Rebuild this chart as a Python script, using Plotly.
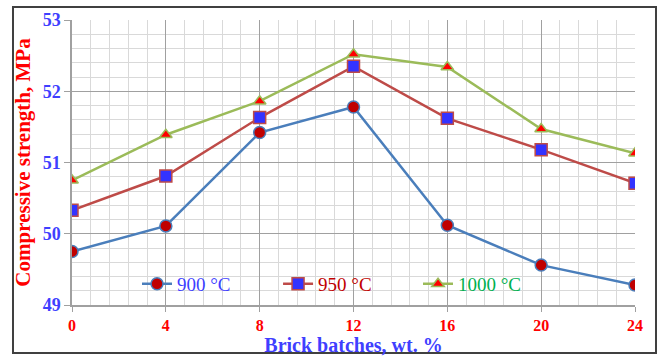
import plotly.graph_objects as go

batches = [0, 4, 8, 12, 16, 20, 24]
s900 = [49.75, 50.11, 51.42, 51.78, 50.12, 49.56, 49.28]
s950 = [50.33, 50.81, 51.63, 52.35, 51.62, 51.18, 50.71]
s1000 = [50.75, 51.39, 51.86, 52.52, 52.34, 51.47, 51.13]
x_ticks = [0, 4, 8, 12, 16, 20, 24]
y_ticks = [49, 50, 51, 52, 53]

SERIF = "Liberation Serif, Times New Roman, serif"

fig = go.Figure()
fig.add_trace(go.Scatter(
    x=batches, y=s900, mode="lines+markers",
    name="900 °C", legend="legend",
    line=dict(color="#4A7EBB", width=2.5),
    marker=dict(symbol="circle", size=12, color="#C00000",
                line=dict(color="#4A7EBB", width=1.5))))
fig.add_trace(go.Scatter(
    x=batches, y=s950, mode="lines+markers",
    name="950 °C", legend="legend2",
    line=dict(color="#BE4B48", width=2.5),
    marker=dict(symbol="square", size=12, color="#3333FF",
                line=dict(color="#BE4B48", width=1.5))))
fig.add_trace(go.Scatter(
    x=batches, y=s1000, mode="lines+markers",
    name="1000 °C", legend="legend3",
    line=dict(color="#9BBB59", width=2.5),
    marker=dict(symbol="triangle-up", size=11, color="#FF0000",
                line=dict(color="#9BBB59", width=1.5))))

def leg(x, color):
    return dict(x=x, y=0.074, xanchor="left", yanchor="middle",
                bgcolor="rgba(255,255,255,0)", borderwidth=0,
                font=dict(family=SERIF, size=19, color=color),
                itemwidth=30)

fig.update_layout(
    width=660, height=356,
    margin=dict(l=72, r=25, t=20, b=51),
    paper_bgcolor="white", plot_bgcolor="white",
    font=dict(family=SERIF),
    showlegend=True,
    legend=leg(0.1155, "#3F3FFF"),
    legend2=leg(0.366, "#C00000"),
    legend3=leg(0.6146, "#00B050"),
    xaxis=dict(
        range=[0, 24], tickvals=x_ticks, ticktext=[str(v) for v in x_ticks],
        automargin=False,
        showgrid=True, gridcolor="#A0A0A0", gridwidth=1,
        minor=dict(dtick=0.8, tick0=0, showgrid=True, gridcolor="#D9D9D9", gridwidth=1),
        showline=True, linecolor="#A0A0A0", linewidth=1.5,
        ticks="outside", ticklen=5, tickcolor="#A0A0A0",
        tickfont=dict(family=SERIF, size=16, color="#FF0000", weight="bold"),
        zeroline=False,
        title=dict(text="<b>Brick batches, wt. %</b>", standoff=0,
                   font=dict(family=SERIF, size=20, color="#3F3FFF")),
    ),
    yaxis=dict(
        range=[49, 53], tickvals=y_ticks, ticktext=[str(v) for v in y_ticks],
        automargin=False,
        showgrid=True, gridcolor="#A0A0A0", gridwidth=1,
        minor=dict(dtick=0.2, tick0=49, showgrid=True, gridcolor="#D9D9D9", gridwidth=1),
        showline=True, linecolor="#A0A0A0", linewidth=1.5,
        ticks="outside", ticklen=6, tickcolor="#A0A0A0",
        tickfont=dict(family=SERIF, size=18, color="#3F3FFF", weight="bold"),
        zeroline=False,
        title=dict(text="<b>Compressive strength, MPa</b>", standoff=6,
                   font=dict(family=SERIF, size=21, color="#FF0000")),
    ),
)

# outer frame
fig.add_shape(type="rect", xref="paper", yref="paper",
              x0=-0.1048, x1=1.0373, y0=-0.168, y1=1.0456,
              line=dict(color="#404040", width=2), fillcolor="rgba(0,0,0,0)", layer="above")

fig.write_html("out.html", config={"displayModeBar": False},
               post_script="document.body.style.margin='0';")
